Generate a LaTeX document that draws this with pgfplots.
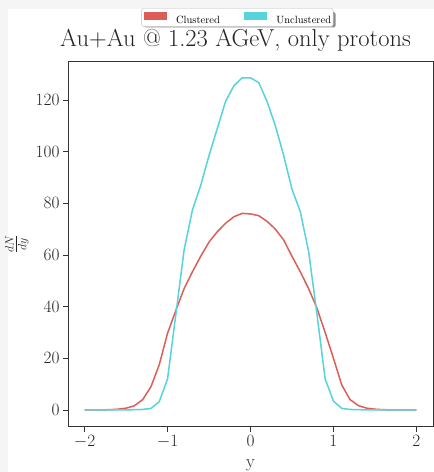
\documentclass[border=0pt]{standalone}
\usepackage{pgfplots}
\pgfplotsset{compat=1.18}
\usepackage{pgfplotstable}
\definecolor{cluRed}{HTML}{DB5F57}
\definecolor{uncCyan}{HTML}{57D3DB}
\pgfplotstableread{
x y
-2.0 0
-1.9 0
-1.8 0.05
-1.7 0.1
-1.6 0.3
-1.5 0.7
-1.4 1.6
-1.3 4
-1.2 9
-1.1 17.5
-1.0 29.7
-0.9 38.5
-0.8 47
-0.7 53.5
-0.6 59.5
-0.5 65
-0.4 69
-0.3 72.3
-0.2 74.8
-0.1 76.1
0.0 75.9
0.1 75.2
0.2 73
0.3 70
0.4 65.8
0.5 59.5
0.6 53.5
0.7 47
0.8 39.5
0.9 30
1.0 20
1.1 9.7
1.2 4
1.3 1.7
1.4 0.7
1.5 0.3
1.6 0.1
1.7 0.05
1.8 0
1.9 0
2.0 0
}\clustered
\pgfplotstableread{
x y
-2.0 0
-1.9 0
-1.8 0
-1.7 0
-1.6 0
-1.5 0.05
-1.4 0.1
-1.3 0.2
-1.2 0.6
-1.1 3.2
-1.0 12
-0.9 37
-0.8 62
-0.7 77.4
-0.6 87
-0.5 98.5
-0.4 109
-0.3 119.5
-0.2 125.5
-0.1 128.6
0.0 128.6
0.1 126.7
0.2 119.4
0.3 110
0.4 98.5
0.5 85.5
0.6 76.8
0.7 61.5
0.8 37.4
0.9 12
1.0 3.4
1.1 0.6
1.2 0.2
1.3 0.1
1.4 0.05
1.5 0
1.6 0
1.7 0
1.8 0
1.9 0
2.0 0
}\unclustered
\begin{document}
\begin{tikzpicture}
\path[use as bounding box] (0,0) rectangle (434pt,472pt);
\fill[black!4] (0,0) rectangle (434pt,472pt);
\fill[white] (8pt,0) rectangle (434pt,463pt);
% legend shadow
\fill[black!45, rounded corners=2pt] (144.5pt,444.5pt) rectangle (335.5pt,460pt);
\begin{axis}[
  at={(68pt,45.5pt)}, anchor=south west,
  width=365pt, height=365pt, scale only axis,
  xmin=-2.2, xmax=2.2, ymin=-6.4, ymax=134.9,
  xtick={-2,-1,0,1,2}, ytick={0,20,40,60,80,100,120},
  tick align=outside, major tick length=5pt,
  xtick pos=bottom, ytick pos=left,
  axis line style={black!80, line width=0.8pt},
  tick style={black!80, line width=0.8pt},
  ticklabel style={font=\fontsize{18}{20}\selectfont, black!85},
  xlabel={y}, ylabel={$\frac{dN}{dy}$},
  label style={font=\fontsize{18}{20}\selectfont, black!85},
  every axis x label/.style={at={(axis description cs:0.5,0)}, anchor=base, yshift=-40.5pt, font=\fontsize{18}{20}\selectfont, black!85},
  title={Au+Au @ 1.23 AGeV, only protons},
  every axis title/.style={at={(axis description cs:0.459,1)}, anchor=base, yshift=14.8pt, font=\fontsize{24.5}{28}\selectfont, black!85},
  legend columns=2,
  legend style={at={(0.464,1.1205)}, anchor=center,
    font=\fontsize{10.5}{12}\selectfont,
    draw=black!25, rounded corners=2pt, fill=white,
    inner xsep=2pt, inner ysep=3.5pt,
    nodes={inner sep=0pt, text height=7.3pt, text depth=0pt},
    /tikz/every odd column/.append style={column sep=9pt},
    /tikz/every even column/.append style={column sep=24pt}},
]
\addplot[cluRed, line width=1.5pt, legend image code/.code={\fill[cluRed, sharp corners] (0pt,0pt) rectangle (22pt,6.7pt);}] table[x=x,y=y] {\clustered};
\addlegendentry{Clustered}
\addplot[uncCyan, line width=1.5pt, legend image code/.code={\fill[uncCyan, sharp corners] (0pt,0pt) rectangle (22pt,6.7pt);}] table[x=x,y=y] {\unclustered};
\addlegendentry{Unclustered}
\end{axis}
\end{tikzpicture}
\end{document}
